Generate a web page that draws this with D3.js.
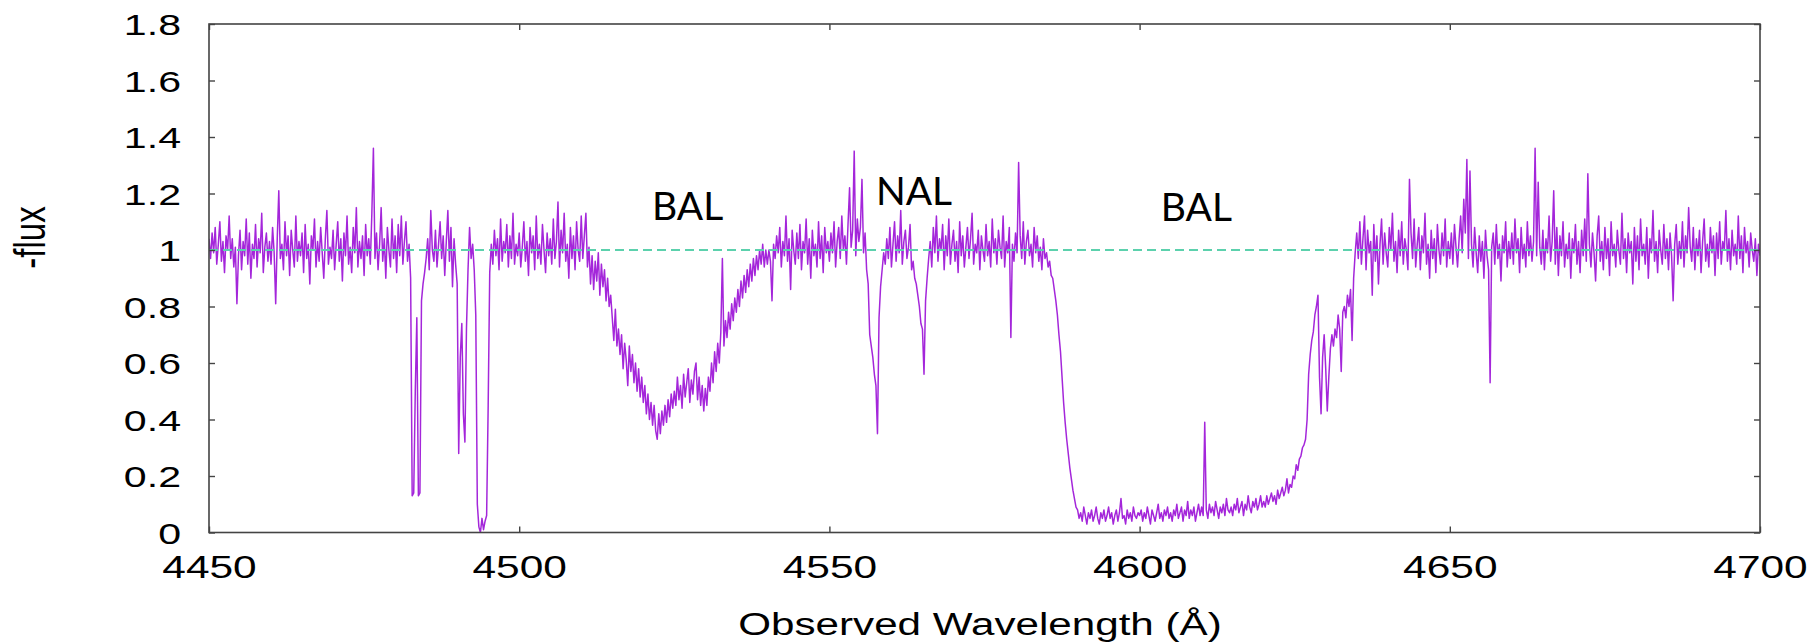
<!DOCTYPE html>
<html>
<head>
<meta charset="utf-8">
<script src="https://cdn.jsdelivr.net/npm/d3@7"></script>
<style>
  html, body { margin: 0; padding: 0; background: #fff; }
  svg { display: block; }
</style>
</head>
<body>
<svg id="chart" width="1818" height="642"></svg>
<script>
// Normalised spectrum, sampled every 0.25 Å starting at 4450 Å.
const WAVE_START = 4450;
const WAVE_STEP = 0.25;

// 4450.00 – 4499.75 Å
const flux4450 = [
  1.04, 0.97, 1.06, 0.99, 1.08, 0.95, 1.02, 1.10, 0.96, 1.03, 0.92, 1.05, 1.00, 1.12, 0.97, 1.04, 0.94, 1.01, 0.81, 0.98,
  1.07, 0.93, 1.03, 0.98, 1.11, 0.95, 1.06, 0.90, 1.02, 0.97, 1.09, 0.94, 1.04, 0.99, 1.13, 0.92, 1.01, 1.06, 0.96, 1.03,
  0.95, 1.08, 0.99, 0.81, 1.04, 1.21, 0.97, 1.02, 0.93, 1.10, 0.98, 1.05, 0.91, 1.07, 1.00, 0.94, 1.12, 0.96, 1.03, 0.98,
  1.06, 0.92, 1.09, 0.97, 1.02, 0.88, 1.05, 1.00, 1.11, 0.94, 1.03, 0.96, 1.08, 0.99, 0.90, 1.04, 1.14, 0.95, 1.01, 0.97,
  1.07, 0.93, 1.02, 1.10, 0.96, 1.04, 0.89, 1.06, 0.98, 1.12, 0.95, 1.01, 0.92, 1.08, 0.99, 1.15, 0.94, 1.03, 0.97, 1.05,
  0.91, 1.09, 0.98, 1.04, 0.95, 1.13, 1.36, 0.97, 1.06, 0.93, 1.02, 1.15, 0.96, 1.04, 0.90, 1.08, 1.00, 0.94, 1.11, 0.97,
  1.05, 0.92, 1.09, 0.98, 1.12, 0.95, 1.03, 1.10, 0.96, 1.02, 0.90, 0.13, 0.14, 0.50, 0.76, 0.13, 0.14, 0.82, 0.88, 0.92,
  0.97, 1.04, 0.93, 1.14, 1.00, 0.96, 1.07, 0.94, 1.02, 1.10, 0.97, 1.05, 0.91, 1.03, 1.14, 0.96, 1.08, 0.87, 1.04, 0.95,
  0.88, 0.28, 0.62, 0.74, 0.42, 0.32, 0.72, 0.93, 1.08, 0.97, 1.02, 0.93, 0.77, 0.10, 0.02, 0.00, 0.05, 0.01, 0.04, 0.06,
  0.45, 0.92, 1.02, 0.95, 1.07, 0.98, 1.04, 0.93, 1.11, 0.96, 1.03, 0.99, 1.09, 0.94, 1.05, 0.97, 1.13, 0.95, 1.02, 0.98
];

// 4500.00 – 4549.75 Å (first broad trough)
const flux4500 = [
  1.06, 0.94, 1.01, 1.10, 0.96, 1.03, 0.91, 1.08, 0.99, 1.05, 0.93, 1.12, 0.97, 1.02, 0.95, 1.09, 1.00, 0.92, 1.06, 0.98,
  1.04, 0.95, 1.11, 0.97, 1.03, 1.17, 0.94, 1.07, 0.99, 1.13, 0.96, 1.02, 0.90, 1.08, 0.97, 1.05, 0.93, 1.10, 1.00, 0.96,
  1.12, 0.97, 1.05, 1.13, 0.94, 1.01, 0.88, 0.98, 0.86, 0.96, 0.89, 0.99, 0.84, 0.95, 0.87, 0.93, 0.82, 0.90, 0.80, 0.84,
  0.76, 0.68, 0.79, 0.66, 0.72, 0.63, 0.70, 0.58, 0.67, 0.61, 0.52, 0.66, 0.57, 0.63, 0.53, 0.60, 0.50, 0.58, 0.48, 0.55,
  0.46, 0.52, 0.42, 0.49, 0.40, 0.46, 0.38, 0.45, 0.36, 0.33, 0.42, 0.35, 0.43, 0.38, 0.45, 0.39, 0.47, 0.41, 0.49, 0.44,
  0.50, 0.45, 0.55, 0.47, 0.52, 0.44, 0.56, 0.48, 0.53, 0.58, 0.46, 0.54, 0.49, 0.57, 0.60, 0.47, 0.55, 0.45, 0.52, 0.43,
  0.51, 0.45, 0.55, 0.50, 0.60, 0.53, 0.64, 0.57, 0.67, 0.60, 0.71, 0.97, 0.66, 0.75, 0.69, 0.78, 0.72, 0.81, 0.75, 0.83,
  0.78, 0.86, 0.80, 0.89, 0.83, 0.91, 0.85, 0.93, 0.87, 0.95, 0.89, 0.97, 0.91, 0.98, 0.93, 1.00, 0.95, 1.02, 0.94, 1.00,
  0.95, 1.00, 0.96, 0.82, 1.02, 0.97, 1.05, 0.99, 1.08, 0.94, 1.03, 0.98, 1.12, 0.96, 1.04, 0.86, 1.07, 1.00, 0.95, 1.06,
  0.97, 1.09, 0.93, 1.03, 0.99, 1.11, 0.95, 1.04, 0.90, 1.07, 0.98, 1.02, 0.94, 1.10, 0.97, 1.05, 0.92, 1.08, 0.99, 1.03
];

// 4550.00 – 4599.75 Å (narrow lines, start of the deep trough)
const flux4550 = [
  0.96, 1.06, 0.99, 1.10, 0.94, 1.03, 1.08, 0.97, 1.12, 1.00, 1.05, 0.95, 1.09, 1.22, 1.01, 1.07, 1.35, 0.98, 1.11, 1.03,
  1.08, 1.25, 0.99, 1.06, 0.93, 0.88, 0.70, 0.66, 0.62, 0.56, 0.52, 0.35, 0.76, 0.87, 0.93, 0.99, 0.95, 1.04, 0.97, 1.08,
  0.94, 1.02, 1.10, 0.96, 1.05, 0.99, 1.14, 0.95, 1.03, 1.07, 0.97, 1.01, 1.09, 0.93, 0.96, 0.90, 0.88, 0.84, 0.80, 0.74,
  0.72, 0.56, 0.82, 0.90, 0.97, 1.03, 0.94, 1.08, 0.99, 1.12, 0.96, 1.04, 1.00, 1.09, 0.93, 1.05, 0.98, 1.11, 0.95, 1.02,
  1.07, 0.96, 1.03, 0.92, 1.10, 0.98, 1.05, 0.94, 1.01, 1.08, 0.97, 1.04, 1.13, 0.95, 1.02, 0.99, 1.07, 0.93, 1.05, 1.00,
  0.96, 1.09, 0.98, 1.03, 0.94, 1.11, 0.99, 1.04, 0.95, 1.07, 1.01, 0.97, 1.12, 0.94, 1.03, 0.99, 1.08, 0.69, 1.02, 0.96,
  1.06, 0.99, 1.31, 1.05, 0.97, 1.10, 0.95, 1.03, 1.07, 0.98, 1.02, 0.94, 1.08, 0.99, 1.05, 0.96, 1.01, 0.93, 1.04, 0.97,
  0.99, 0.94, 0.96, 0.91, 0.90, 0.86, 0.82, 0.77, 0.70, 0.64, 0.55, 0.46, 0.39, 0.33, 0.28, 0.23, 0.19, 0.15, 0.12, 0.09,
  0.08, 0.05, 0.07, 0.04, 0.09, 0.06, 0.03, 0.07, 0.05, 0.08, 0.04, 0.06, 0.09, 0.05, 0.03, 0.07, 0.05, 0.08, 0.04, 0.06,
  0.09, 0.05, 0.07, 0.03, 0.06, 0.08, 0.04, 0.07, 0.12, 0.05, 0.06, 0.03, 0.08, 0.05, 0.07, 0.04, 0.09, 0.06, 0.05, 0.07
];

// 4600.00 – 4649.75 Å (floor of the deep trough and its recovery)
const flux4600 = [
  0.06, 0.08, 0.04, 0.07, 0.05, 0.09, 0.06, 0.03, 0.08, 0.06, 0.04, 0.07, 0.10, 0.05, 0.07, 0.04, 0.08, 0.06, 0.09, 0.05,
  0.07, 0.04, 0.08, 0.06, 0.10, 0.05, 0.07, 0.09, 0.04, 0.08, 0.06, 0.11, 0.05, 0.08, 0.06, 0.09, 0.04, 0.07, 0.10, 0.06,
  0.09, 0.06, 0.39, 0.08, 0.05, 0.10, 0.07, 0.09, 0.06, 0.11, 0.08, 0.05, 0.09, 0.07, 0.10, 0.06, 0.12, 0.08, 0.07, 0.09,
  0.06, 0.10, 0.08, 0.12, 0.07, 0.09, 0.11, 0.06, 0.10, 0.08, 0.13, 0.09, 0.07, 0.11, 0.09, 0.12, 0.08, 0.10, 0.13, 0.09,
  0.11, 0.09, 0.13, 0.10, 0.12, 0.14, 0.11, 0.13, 0.10, 0.15, 0.12, 0.14, 0.16, 0.13, 0.15, 0.19, 0.14, 0.17, 0.16, 0.20,
  0.19, 0.24, 0.22, 0.26, 0.27, 0.30, 0.31, 0.33, 0.40, 0.56, 0.63, 0.68, 0.71, 0.77, 0.80, 0.84, 0.55, 0.42, 0.62, 0.70,
  0.58, 0.43, 0.55, 0.65, 0.70, 0.66, 0.72, 0.69, 0.77, 0.72, 0.57, 0.78, 0.80, 0.76, 0.84, 0.80, 0.86, 0.68, 0.90, 0.99,
  1.06, 0.97, 1.10, 0.95, 1.04, 1.12, 0.93, 1.07, 0.99, 1.03, 0.84, 1.09, 0.96, 1.05, 0.88, 1.02, 1.11, 0.95, 1.06, 0.99,
  0.94, 1.08, 1.00, 1.13, 0.96, 1.03, 0.92, 1.07, 0.98, 1.10, 0.95, 1.04, 1.00, 0.93, 1.25, 1.06, 0.97, 1.11, 0.94, 1.02,
  1.08, 0.93, 1.05, 0.99, 1.13, 0.95, 1.02, 0.90, 1.07, 0.97, 1.04, 0.92, 1.09, 1.00, 0.95, 1.06, 0.98, 1.11, 0.94, 1.03
];

// 4650.00 – 4700.00 Å
const flux4650 = [
  0.97, 1.06, 0.95, 1.09, 1.01, 0.94, 1.04, 1.12, 0.99, 1.18, 1.06, 1.32, 0.97, 1.28, 1.02, 0.94, 1.08, 0.99, 0.92, 1.05,
  0.96, 1.03, 0.90, 1.07, 0.98, 0.93, 0.53, 1.01, 1.06, 0.95, 1.09, 0.97, 1.02, 0.89, 1.05, 0.99, 1.10, 0.94, 1.03, 0.97,
  1.06, 0.95, 1.11, 0.99, 1.04, 0.92, 1.08, 0.97, 1.02, 0.94, 1.10, 0.98, 1.05, 0.96, 1.03, 1.36, 0.98, 1.24, 1.01, 0.95,
  1.07, 0.93, 1.04, 0.99, 1.12, 0.96, 1.03, 1.21, 0.95, 1.08, 0.91, 1.05, 0.98, 1.10, 0.94, 1.02, 0.97, 1.06, 0.90, 1.04,
  0.99, 1.09, 0.95, 1.03, 0.92, 1.07, 0.98, 1.11, 0.96, 1.27, 1.02, 0.94, 1.06, 0.99, 0.89, 1.05, 1.12, 0.96, 1.03, 0.93,
  1.08, 0.97, 1.04, 0.91, 1.10, 0.98, 1.02, 0.94, 1.07, 1.00, 0.95, 1.13, 0.97, 1.04, 0.92, 1.06, 0.99, 1.03, 0.88, 1.08,
  0.96, 1.05, 0.93, 1.11, 0.98, 1.02, 0.95, 1.08, 0.90, 1.04, 0.99, 1.14, 0.96, 1.03, 0.92, 1.07, 1.00, 0.95, 1.09, 0.97,
  1.04, 0.93, 1.06, 0.98, 0.82, 1.02, 1.09, 0.95, 1.03, 0.97, 1.10, 0.94, 1.05, 0.99, 1.15, 1.01, 0.96, 1.08, 0.93, 1.04,
  0.98, 1.07, 0.92, 1.03, 1.11, 0.96, 1.02, 0.94, 1.08, 0.99, 1.05, 0.91, 1.06, 0.97, 1.10, 0.95, 1.03, 1.00, 1.14, 0.96,
  1.04, 0.93, 1.07, 0.98, 1.02, 0.95, 1.12, 0.97, 1.05, 0.92, 1.08, 0.99, 1.03, 0.94, 1.06, 1.00, 0.96, 1.04, 0.91, 1.02, 0.98
];

const continuumLevel = 1;

const xTicks = [4450, 4500, 4550, 4600, 4650, 4700];
const xTickLabels = ["4450", "4500", "4550", "4600", "4650", "4700"];
const yTicks = [0, 0.2, 0.4, 0.6, 0.8, 1.0, 1.2, 1.4, 1.6, 1.8];
const yTickLabels = ["0", "0.2", "0.4", "0.6", "0.8", "1", "1.2", "1.4", "1.6", "1.8"];

const featureLabels = ["BAL", "NAL", "BAL"];
const featureWaves = [4521.4, 4557.5, 4603.4];
const featureFlux = [1.106, 1.159, 1.103];

// ---------------------------------------------------------------------------
const W = 1818, H = 642;
const plot = { left: 209, right: 1760, top: 24, bottom: 532.5 };
const AXIS_FONT = "'Liberation Sans', Arial, Helvetica, sans-serif";
const FRAME = "#444";

const x = d3.scaleLinear().domain([4450, 4700]).range([plot.left, plot.right]);
const y = d3.scaleLinear().domain([0, 1.8]).range([plot.bottom, plot.top]);

const svg = d3.select("#chart");
svg.append("rect").attr("width", W).attr("height", H).attr("fill", "#fff");

svg.append("defs").append("clipPath").attr("id", "plot-clip")
  .append("rect")
  .attr("x", plot.left).attr("y", plot.top)
  .attr("width", plot.right - plot.left).attr("height", plot.bottom - plot.top);

// spectrum
const flux = [].concat(flux4450, flux4500, flux4550, flux4600, flux4650);
const spectrum = flux.map((f, i) => ({ wave: WAVE_START + i * WAVE_STEP, flux: f }));

svg.append("path")
  .datum(spectrum)
  .attr("clip-path", "url(#plot-clip)")
  .attr("fill", "none")
  .attr("stroke", "#9400d3")
  .attr("stroke-width", 1.5)
  .attr("stroke-opacity", 0.85)
  .attr("stroke-linejoin", "round")
  .attr("d", d3.line().x(d => x(d.wave)).y(d => y(d.flux)));

// continuum level
svg.append("line")
  .attr("x1", x(4450)).attr("x2", x(4700))
  .attr("y1", y(continuumLevel)).attr("y2", y(continuumLevel))
  .attr("stroke", "#5cd1ad")
  .attr("stroke-width", 2)
  .attr("stroke-dasharray", "9,5");

// axes with inward ticks on all four sides
function styleTicks(g) {
  g.select(".domain").remove();
  g.selectAll(".tick line").attr("stroke", FRAME).attr("stroke-width", 1.4);
}

const gLeft = svg.append("g")
  .attr("transform", `translate(${plot.left},0)`)
  .call(d3.axisLeft(y).tickValues(yTicks).tickFormat((d, i) => yTickLabels[i]).tickSize(-6).tickPadding(0));
styleTicks(gLeft);
gLeft.selectAll(".tick text")
  .attr("x", 0).attr("dy", "0.36em")
  .attr("transform", "translate(-28,0) scale(1.37,1)")
  .attr("fill", "#000")
  .style("font-family", AXIS_FONT).style("font-size", "30px");

const gRight = svg.append("g")
  .attr("transform", `translate(${plot.right},0)`)
  .call(d3.axisRight(y).tickValues(yTicks).tickFormat("").tickSize(-6));
styleTicks(gRight);

const gBottom = svg.append("g")
  .attr("transform", `translate(0,${plot.bottom})`)
  .call(d3.axisBottom(x).tickValues(xTicks).tickFormat((d, i) => xTickLabels[i]).tickSize(-6).tickPadding(0));
styleTicks(gBottom);
gBottom.selectAll(".tick text")
  .attr("y", 0).attr("dy", null)
  .attr("transform", "translate(0,45.5) scale(1.37,1)")
  .attr("fill", "#000")
  .style("font-family", AXIS_FONT).style("font-size", "31px");

const gTop = svg.append("g")
  .attr("transform", `translate(0,${plot.top})`)
  .call(d3.axisTop(x).tickValues(xTicks).tickFormat("").tickSize(-6));
styleTicks(gTop);

// frame
svg.append("rect")
  .attr("x", plot.left).attr("y", plot.top)
  .attr("width", plot.right - plot.left).attr("height", plot.bottom - plot.top)
  .attr("fill", "none").attr("stroke", FRAME).attr("stroke-width", 1.6);

// axis titles
svg.append("text")
  .attr("transform", "translate(980,635) scale(1.36,1)")
  .attr("text-anchor", "middle")
  .style("font-family", AXIS_FONT).style("font-size", "31px")
  .attr("fill", "#000")
  .text("Observed Wavelength (Å)");

svg.append("text")
  .attr("transform", "translate(45,237.5) scale(1.37,1) rotate(-90)")
  .attr("text-anchor", "middle")
  .style("font-family", AXIS_FONT).style("font-size", "33px")
  .attr("fill", "#000")
  .text("-flux");

// absorption feature labels
svg.append("g").selectAll("text")
  .data(featureLabels)
  .join("text")
  .attr("x", (d, i) => x(featureWaves[i]))
  .attr("y", (d, i) => y(featureFlux[i]))
  .style("font-family", "Lato, 'Open Sans', sans-serif")
  .style("font-size", "39px")
  .attr("fill", "#000")
  .text(d => d);
</script>
</body>
</html>
